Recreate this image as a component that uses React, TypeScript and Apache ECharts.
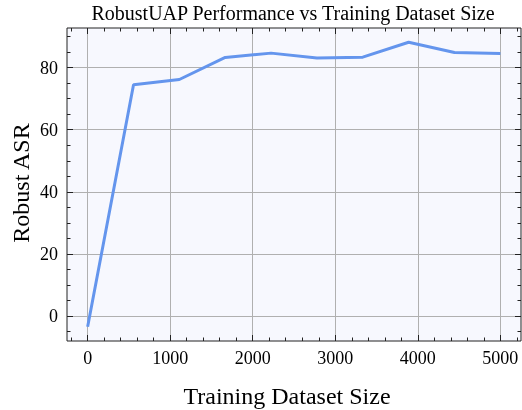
import React, { useEffect, useRef } from "react";
import * as echarts from "echarts";

const xValues = [0, 556, 1111, 1667, 2222, 2778, 3333, 3889, 4444, 5000];
const robustASR = [-3.5, 74.5, 76.2, 83.3, 84.7, 83.1, 83.4, 88.2, 84.9, 84.6];
const xMajorTicks = [0, 1000, 2000, 3000, 4000, 5000];
const xMinorTicks = [-200, 0, 200, 400, 600, 800, 1000, 1200, 1400, 1600, 1800, 2000, 2200, 2400, 2600, 2800, 3000, 3200, 3400, 3600, 3800, 4000, 4200, 4400, 4600, 4800, 5000, 5200];
const yMajorTicks = [0, 20, 40, 60, 80];
const yMinorTicks = [-5, 0, 5, 10, 15, 20, 25, 30, 35, 40, 45, 50, 55, 60, 65, 70, 75, 80, 85, 90];

const titleText = "RobustUAP Performance vs Training Dataset Size";
const xName = "Training Dataset Size";
const yName = "Robust ASR";

const FONT = "'Liberation Serif', 'Times New Roman', serif";
const DARK = "#222";

export default function App() {
  const ref = useRef<HTMLDivElement>(null);
  useEffect(() => {
    if (!ref.current) return;
    const chart = echarts.init(ref.current, undefined, { renderer: "svg" });
    const X_MIN = -250, X_MAX = 5250, Y_MIN = -8.1, Y_MAX = 92.8;
    const mkX = (pos: string, major: boolean, showLabel: boolean) => ({
      type: "value",
      position: pos,
      min: X_MIN,
      max: X_MAX,
      axisLine: { show: false, onZero: false },
      axisTick: {
        show: true,
        inside: true,
        length: major ? 6 : 3.5,
        lineStyle: { color: DARK, width: 1 },
        customValues: major ? xMajorTicks : xMinorTicks,
      },
      axisLabel: {
        show: showLabel,
        customValues: xMajorTicks,
        formatter: (v: number) => String(v),
        fontFamily: FONT,
        fontSize: 18,
        color: "#000",
        margin: 8,
      },
      splitLine: {
        show: major && pos === "bottom",
        lineStyle: { color: "#b0b0b0", width: 1 },
      },
    });
    const mkY = (pos: string, major: boolean, showLabel: boolean) => ({
      type: "value",
      position: pos,
      min: Y_MIN,
      max: Y_MAX,
      axisLine: { show: false, onZero: false },
      axisTick: {
        show: true,
        inside: true,
        length: major ? 6 : 3.5,
        lineStyle: { color: DARK, width: 1 },
        customValues: major ? yMajorTicks : yMinorTicks,
      },
      axisLabel: {
        show: showLabel,
        customValues: yMajorTicks,
        formatter: (v: number) => String(v),
        fontFamily: FONT,
        fontSize: 18,
        color: "#000",
        margin: 9,
      },
      splitLine: {
        show: major && pos === "left",
        lineStyle: { color: "#b0b0b0", width: 1 },
      },
    });
    chart.setOption({
      animation: false,
      grid: {
        left: 67,
        right: 1,
        top: 28,
        bottom: 69,
        show: true,
        backgroundColor: "#f7f8fe",
        borderColor: DARK,
        borderWidth: 1,
      },
      xAxis: [
        mkX("bottom", true, true),
        mkX("bottom", false, false),
        mkX("top", true, false),
        mkX("top", false, false),
      ],
      yAxis: [
        mkY("left", true, true),
        mkY("left", false, false),
        mkY("right", true, false),
        mkY("right", false, false),
      ],
      graphic: [
        {
          type: "text",
          x: 293,
          y: 13,
          style: {
            text: titleText,
            font: `20px ${FONT}`,
            fill: "#000",
            textAlign: "center",
            textVerticalAlign: "middle",
          },
        },
        {
          type: "text",
          x: 287,
          y: 396,
          style: {
            text: xName,
            font: `24px ${FONT}`,
            fill: "#000",
            textAlign: "center",
            textVerticalAlign: "middle",
          },
        },
        {
          type: "text",
          x: 21,
          y: 183,
          rotation: Math.PI / 2,
          style: {
            text: yName,
            font: `24px ${FONT}`,
            fill: "#000",
            textAlign: "center",
            textVerticalAlign: "middle",
          },
        },
      ],
      series: [
        {
          type: "line",
          xAxisIndex: 0,
          yAxisIndex: 0,
          data: xValues.map((x, i) => [x, robustASR[i]]),
          showSymbol: false,
          symbol: "none",
          lineStyle: { color: "#6495ED", width: 3 },
          z: 5,
        },
      ],
    });
    return () => chart.dispose();
  }, []);
  return (
    <div
      ref={ref}
      style={{ position: "fixed", left: 0, top: 0, width: 522, height: 410 }}
    />
  );
}
